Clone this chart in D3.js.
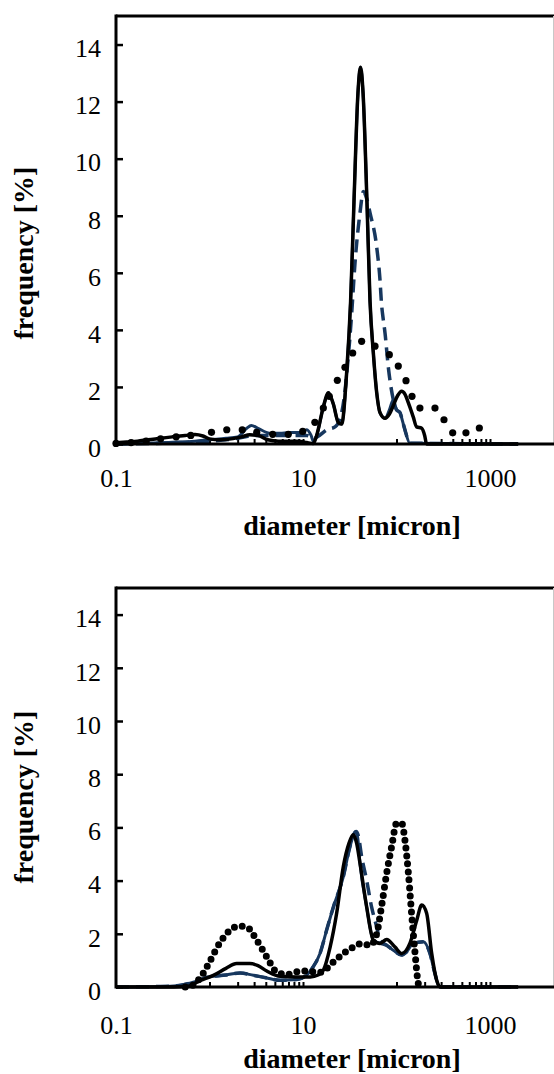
<!DOCTYPE html>
<html>
<head>
<meta charset="utf-8">
<script src="https://cdn.jsdelivr.net/npm/d3@7"></script>
<style>
  body { margin: 0; background: #fff; }
  svg { display: block; }
</style>
</head>
<body>
<script>
// ---- data: [diameter in micron, frequency in %] ----
const topBlack = [[0.1,0.04],[0.13,0.07],[0.17,0.1],[0.22,0.15],[0.3,0.2],[0.4,0.25],[0.55,0.3],[0.7,0.33],[0.85,0.28],[1.0,0.18],[1.3,0.15],[1.7,0.18],[2.2,0.25],[2.7,0.32],[3.3,0.3],[4.2,0.15],[5.5,0.1],[7,0.1],[9,0.1],[11,0.05],[12.9,0.02],[14,0.3],[16.5,1.3],[18.7,1.8],[21.1,1.4],[23.9,0.75],[25.9,0.7],[29.3,2.5],[32.3,5],[35.1,8.5],[38.7,12.3],[41.2,13.2],[43.9,12.3],[48.3,8.5],[52.1,5],[56.5,3.2],[61.4,1.8],[66.6,1.1],[75.3,0.9],[84,1.05],[92.5,1.35],[103,1.7],[113.5,1.85],[123,1.75],[133.7,1.45],[151,0.95],[164,0.6],[186,0.55],[200,0.3],[210,0],[2000,0]];
const topNavy = [[0.1,0],[0.2,0.03],[0.4,0.06],[0.7,0.1],[1.0,0.15],[1.5,0.2],[2.0,0.25],[2.5,0.55],[2.8,0.65],[3.3,0.55],[4.4,0.38],[5.7,0.38],[7,0.4],[9.3,0.4],[11,0.5],[12.2,0.3],[12.9,0.1],[14,0.3],[16.5,1.3],[18.7,1.8],[21.1,1.4],[23.9,0.75],[25.9,0.7],[29.3,2.5],[32.3,5],[35.1,8.5],[38.7,12.3],[41.2,13.2],[43.9,12.3],[48.3,8.5],[52.1,5],[56.5,3.2],[61.4,1.8],[66.6,1.1],[75.3,0.9],[84,1.2],[92.5,1.55],[100,1.2],[109,1.1],[116,0.8],[123,0.5],[139,0.03],[2000,0]];
const topDashed = [[0.1,0],[0.5,0.05],[1,0.1],[2,0.2],[3,0.3],[5,0.3],[8,0.3],[11,0.3],[13,0.2],[15,0.3],[18,0.5],[22,0.6],[25,0.9],[28,1.8],[30,2.8],[31.8,3.77],[33.2,4.6],[36,6.35],[40.7,8.1],[44.2,8.85],[48,8.6],[52.1,8.1],[61.4,6.9],[66.6,5.75],[69,4.95],[72.3,4.35],[75.3,3.9],[81.7,2.7],[92.5,1.55],[100,1.2],[109,1.1],[116,0.8],[123,0.5],[139,0.03],[2000,0]];
const topDots = [[0.1,0.02],[0.145,0.05],[0.21,0.1],[0.3,0.18],[0.44,0.25],[0.63,0.3],[1.05,0.41],[1.53,0.5],[2.24,0.5],[3.2,0.41],[4.74,0.34],[6.96,0.34],[9.93,0.44],[13.4,0.76],[16.5,1.26],[19.1,1.67],[23.3,2.23],[28.1,2.69],[34.0,3.19],[42.4,3.6],[58.9,3.43],[83.8,3.13],[104.5,2.73],[126.4,2.22],[146.5,1.67],[178,1.26],[258,1.26],[322,0.85],[399,0.39],[553,0.39],[769,0.56]];

const botBlack = [[0.1,0],[0.3,0],[0.57,0.02],[0.8,0.25],[1.1,0.44],[1.5,0.7],[1.95,0.88],[2.7,0.88],[3.3,0.8],[4.1,0.6],[5.7,0.4],[8.5,0.38],[12,0.38],[14.5,0.45],[16.5,0.63],[19.5,1.5],[22.9,2.77],[27,4.53],[31,5.4],[34.5,5.72],[37.5,5.4],[40.7,4.65],[48,3.0],[56.5,1.76],[66.6,1.64],[78.5,1.79],[96.4,1.5],[113.5,1.26],[139,1.64],[164.4,2.5],[186,3.08],[210,2.77],[238,1.26],[269,0.25],[292,0],[2000,0]];
const botNavy = [[0.1,0],[0.3,0.02],[0.45,0.05],[0.7,0.2],[0.97,0.38],[1.5,0.45],[2.12,0.53],[2.95,0.44],[4,0.35],[5.7,0.25],[8.5,0.28],[10.9,0.44],[12.8,0.75],[15.2,1.26],[17.9,2.14],[21.1,3.0],[27,4.15],[31.8,5.28],[36.9,5.85],[38.5,5.6],[40.7,4.65],[48,3.0],[56.5,1.76],[66.6,1.64],[80,1.55],[92.5,1.38],[113.5,1.2],[128,1.32],[151,1.64],[194,1.7],[228,1.26],[258,0.5],[281,0.06],[300,0],[2000,0]];
const botDashed = [[0.1,0],[0.3,0.02],[0.45,0.05],[0.7,0.2],[0.97,0.38],[1.5,0.45],[2.12,0.53],[2.95,0.44],[4,0.35],[5.7,0.25],[8.5,0.28],[10.9,0.44],[12.8,0.75],[15.2,1.26],[17.9,2.14],[21.1,3.0],[27,4.15],[31.8,5.28],[36.9,5.85],[39,5.7],[42.4,4.9],[48,4.0],[54.2,3.0],[61.4,2.26],[66.6,1.76],[80,1.55],[92.5,1.38],[113.5,1.2],[128,1.32],[151,1.64],[194,1.7],[228,1.26],[258,0.5],[281,0.06],[300,0],[2000,0]];
const botDots = [[0.55,0],[0.62,0.02],[0.85,0.5],[1.0,0.94],[1.28,1.64],[1.66,2.14],[2.12,2.29],[2.5,2.26],[3.2,1.76],[4.1,1.13],[5.2,0.57],[6.7,0.47],[8.5,0.57],[10.9,0.6],[15.2,0.55],[21.1,0.94],[27,1.26],[34.5,1.5],[42.4,1.64],[52.1,1.57],[61.4,2.0],[69,3.0],[78.5,4.28],[88.7,5.28],[100.4,6.16],[113.5,6.16],[123,5.53],[134,4.28],[145,2.77],[158,1.26],[171,0.13],[176,0]];

const xTicks = [0.1, 10, 1000];
const xMinorTicks = [1,2,3,4,5,6,7,8,9,10,100,200,300,400,500,600,700,800,900,1000];
const yTicks = [0, 2, 4, 6, 8, 10, 12, 14];
const xTitle = "diameter [micron]";
const yTitle = "frequency [%]";

const navy = "#17375e";
const serif = "'Liberation Serif', 'Times New Roman', serif";

const W = 554, H = 1074;
const left = 116, right = 553;

const svg = d3.select("body").append("svg").attr("width", W).attr("height", H);

const x = d3.scaleLog().domain([0.1, 10000]).range([left, 583.5]);

const panels = [
  { top: 16, bottom: 444, labPad: 24.5, titleY: 535, yTitleY: 253, dotGap: null,
    navy: topNavy, dashed: topDashed, black: topBlack, dots: topDots },
  { top: 588, bottom: 987, labPad: 28.5, titleY: 1068, yTitleY: 797, dotGap: 8,
    navy: botNavy, dashed: botDashed, black: botBlack, dots: botDots },
];

panels.forEach((p) => {
  const y = d3.scaleLinear().domain([0, 15]).range([p.bottom, p.top]);
  const g = svg.append("g");

  const line = d3.line()
    .x((d) => x(d[0]))
    .y((d) => y(d[1]))
    .curve(d3.curveMonotoneX);

  // minor ticks along the bottom, pointing in
  g.append("g")
    .attr("transform", `translate(0,${p.bottom})`)
    .call(d3.axisBottom(x).tickValues(xMinorTicks).tickSize(-5).tickFormat(""))
    .call((a) => a.select(".domain").remove())
    .selectAll("line").attr("stroke", "#000").attr("stroke-width", 2);

  // series
  g.append("path").datum(p.navy).attr("d", line)
    .attr("fill", "none").attr("stroke", navy).attr("stroke-width", 3);
  g.append("path").datum(p.dashed).attr("d", line)
    .attr("fill", "none").attr("stroke", navy).attr("stroke-width", 3.5)
    .attr("stroke-dasharray", "13 7");
  g.append("path").datum(p.black).attr("d", line)
    .attr("fill", "none").attr("stroke", "#000").attr("stroke-width", 3.5)
    .attr("stroke-linejoin", "round");

  if (p.dotGap === null) {
    // top panel: one round marker per reading
    g.selectAll("circle.dot").data(p.dots).enter().append("circle")
      .attr("class", "dot")
      .attr("cx", (d) => x(d[0]))
      .attr("cy", (d) => y(d[1]))
      .attr("r", 3.6)
      .attr("fill", "#000");
  } else {
    g.append("path").datum(p.dots).attr("d", line)
      .attr("fill", "none").attr("stroke", "#000").attr("stroke-width", 7)
      .attr("stroke-linecap", "round").attr("stroke-dasharray", `0 ${p.dotGap}`);
  }

  // frame
  g.append("line").attr("x1", left).attr("x2", W).attr("y1", p.top).attr("y2", p.top)
    .attr("stroke", "#000").attr("stroke-width", 3);
  g.append("line").attr("x1", right + 0.5).attr("x2", right + 0.5).attr("y1", p.top).attr("y2", p.bottom)
    .attr("stroke", "#c8c8c8").attr("stroke-width", 1);

  // y axis
  const ya = g.append("g")
    .attr("transform", `translate(${left},0)`)
    .call(d3.axisLeft(y).tickValues(yTicks).tickSizeInner(-7).tickSizeOuter(0).tickPadding(15));
  ya.select(".domain").remove();
  ya.selectAll("line").attr("stroke", "#000").attr("stroke-width", 2.5);
  ya.selectAll("text").attr("y", 4)
    .style("font-family", serif).style("font-size", "26px").attr("fill", "#000");
  g.append("line").attr("x1", left).attr("x2", left).attr("y1", p.top - 1.5).attr("y2", p.bottom + 1.5)
    .attr("stroke", "#000").attr("stroke-width", 3);

  // x axis
  const xa = g.append("g")
    .attr("transform", `translate(0,${p.bottom})`)
    .call(d3.axisBottom(x).tickValues(xTicks).tickSize(0).tickPadding(p.labPad).tickFormat(d3.format("")));
  xa.select(".domain").remove();
  xa.selectAll("text").style("font-family", serif).style("font-size", "26px").attr("fill", "#000");
  g.append("line").attr("x1", left).attr("x2", W).attr("y1", p.bottom).attr("y2", p.bottom)
    .attr("stroke", "#000").attr("stroke-width", 3);

  // titles
  g.append("text")
    .attr("x", 352).attr("y", p.titleY)
    .attr("text-anchor", "middle")
    .style("font-family", serif).style("font-size", "28px").style("font-weight", "bold")
    .text(xTitle);
  g.append("text")
    .attr("transform", `translate(33,${p.yTitleY}) rotate(-90)`)
    .attr("text-anchor", "middle")
    .style("font-family", serif).style("font-size", "28px").style("font-weight", "bold")
    .text(yTitle);
});
</script>
</body>
</html>
